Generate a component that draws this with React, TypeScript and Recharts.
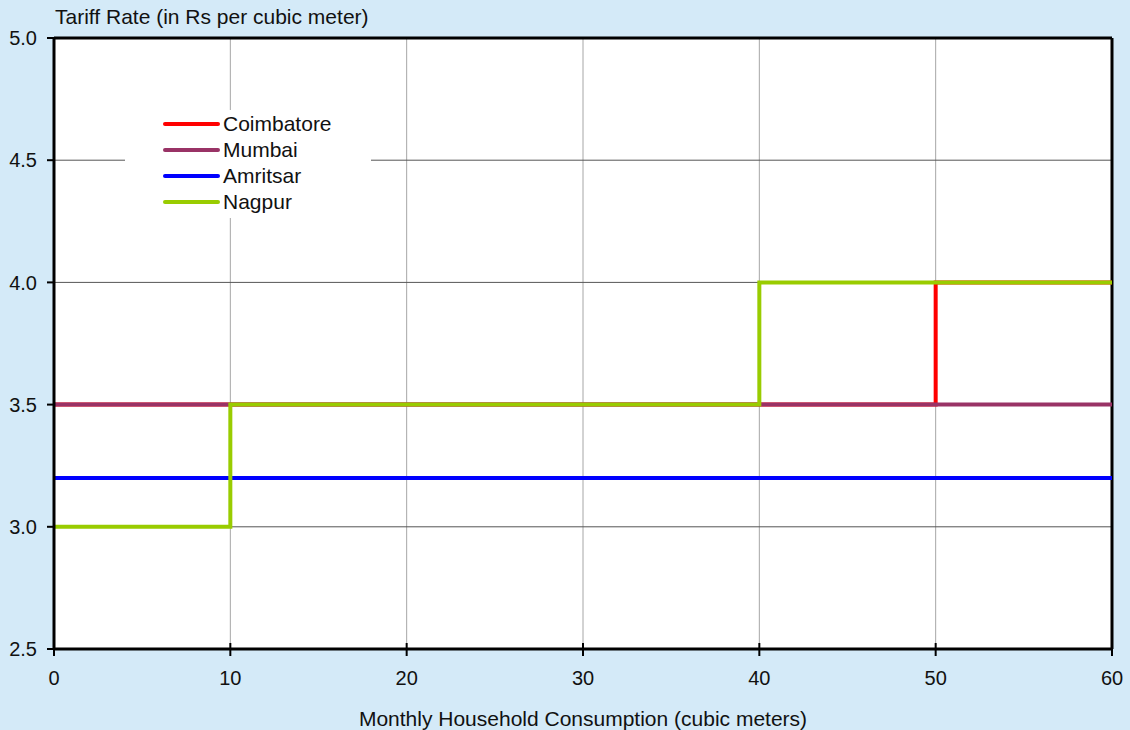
import { CartesianGrid, Legend, Line, LineChart, ReferenceLine, XAxis, YAxis } from 'recharts';

// step points: rate applies from m3 until the next point
const coimbatore = [
  { m3: 0, rate: 3.5 },
  { m3: 50, rate: 4.0 },
  { m3: 60, rate: 4.0 },
];
const mumbai = [
  { m3: 0, rate: 3.5 },
  { m3: 60, rate: 3.5 },
];
const amritsar = [
  { m3: 0, rate: 3.2 },
  { m3: 60, rate: 3.2 },
];
const nagpur = [
  { m3: 0, rate: 3.0 },
  { m3: 10, rate: 3.5 },
  { m3: 40, rate: 4.0 },
  { m3: 60, rate: 4.0 },
];

const cities = ['Coimbatore', 'Mumbai', 'Amritsar', 'Nagpur'];
const xTicks = [0, 10, 20, 30, 40, 50, 60];
const yTicks = [2.5, 3.0, 3.5, 4.0, 4.5, 5.0];

const FONT = '"Liberation Sans", Arial, sans-serif';

const XTick = ({ x, y, payload }: any) => (
  <g>
    <line x1={x} x2={x} y1={y - 6} y2={y + 7} stroke="#000" strokeWidth={2} />
    <text x={x} y={y + 36} textAnchor="middle" fontSize={20} fill="#111" fontFamily={FONT}>
      {payload.value}
    </text>
  </g>
);

const LegendBox = ({ payload }: any) => {
  const items = [...(payload || [])].sort((a: any, b: any) => cities.indexOf(a.value) - cities.indexOf(b.value));
  return (
    <div style={{ fontFamily: FONT, fontSize: 21, color: '#111', paddingTop: 1 }}>
      {items.map((p: any) => (
        <div key={p.value} style={{ display: 'flex', alignItems: 'center', height: 26 }}>
          <span
            style={{
              display: 'inline-block',
              marginLeft: 38,
              width: 57,
              height: 4,
              borderRadius: 2,
              background: p.color,
              marginRight: 3,
            }}
          />
          <span>{p.value}</span>
        </div>
      ))}
    </div>
  );
};

const App = () => {
  return (
    <div
      style={{
        position: 'absolute',
        left: 0,
        top: 0,
        width: 1130,
        height: 730,
        background: '#D4EAF8',
        fontFamily: FONT,
      }}
    >
      <div style={{ position: 'absolute', left: 55, top: 5, fontSize: 21, color: '#111' }}>
        Tariff Rate (in Rs per cubic meter)
      </div>
      <LineChart width={1130} height={730} margin={{ top: 38, right: 18, bottom: 0, left: 0 }}>
        <CartesianGrid horizontal={false} stroke="#a6a6a6" fill="#fff" />
        <CartesianGrid vertical={false} stroke="#555" />
        <XAxis
          dataKey="m3"
          type="number"
          domain={[0, 60]}
          ticks={xTicks}
          height={81}
          axisLine={{ stroke: '#000', strokeWidth: 3 }}
          tickLine={false}
          tickSize={0}
          tickMargin={0}
          tick={<XTick />}
          label={{
            value: 'Monthly Household Consumption (cubic meters)',
            position: 'insideBottom',
            offset: 4,
            fill: '#111',
            fontSize: 21,
            fontFamily: FONT,
          }}
        />
        <YAxis
          type="number"
          domain={[2.5, 5]}
          ticks={yTicks}
          width={54}
          axisLine={{ stroke: '#000', strokeWidth: 3 }}
          tickLine={{ stroke: '#000', strokeWidth: 2 }}
          tickSize={7}
          tickMargin={10}
          tickFormatter={(v: number) => v.toFixed(1)}
          tick={{ fill: '#111', fontSize: 20, fontFamily: FONT }}
        />
        <ReferenceLine y={5} stroke="#000" strokeWidth={3} />
        <ReferenceLine x={60} stroke="#000" strokeWidth={3} />
        <Legend
          layout="horizontal"
          verticalAlign="middle"
          align="center"
          content={<LegendBox />}
          wrapperStyle={{ left: 125, top: 110, width: 246, height: 108, background: '#fff' }}
        />
        <Line data={coimbatore} dataKey="rate" name="Coimbatore" type="stepAfter" stroke="#FF0000" strokeWidth={4} dot={false} activeDot={false} isAnimationActive={false} />
        <Line data={mumbai} dataKey="rate" name="Mumbai" type="stepAfter" stroke="#993366" strokeWidth={4} dot={false} activeDot={false} isAnimationActive={false} />
        <Line data={amritsar} dataKey="rate" name="Amritsar" type="stepAfter" stroke="#0000FF" strokeWidth={4} dot={false} activeDot={false} isAnimationActive={false} />
        <Line data={nagpur} dataKey="rate" name="Nagpur" type="stepAfter" stroke="#99CC00" strokeWidth={4} dot={false} activeDot={false} isAnimationActive={false} />
      </LineChart>
    </div>
  );
};

export default App;
